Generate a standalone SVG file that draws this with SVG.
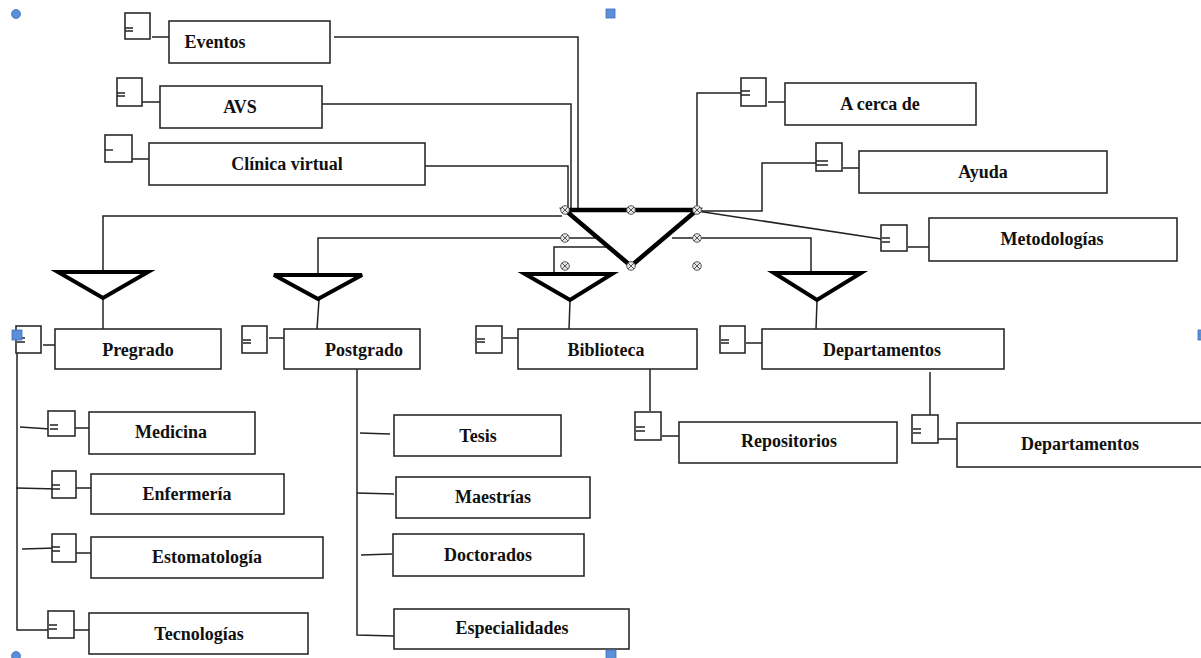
<svg xmlns="http://www.w3.org/2000/svg" xmlns:xlink="http://www.w3.org/1999/xlink" width="1201" height="658" viewBox="0 0 1201 658">
<style>
.box{fill:#fff;stroke:#2b2b2b;stroke-width:1.6}
.sb{fill:#fff;stroke:#2b2b2b;stroke-width:1.6}
.ln{fill:none;stroke:#222;stroke-width:1.5}
.eq{fill:none;stroke:#222;stroke-width:1.4}
.tri{fill:#fff;stroke:#000;stroke-width:4;stroke-linejoin:miter}
.big{fill:none;stroke:#000;stroke-width:4.5;stroke-linejoin:miter}
.t{font-family:"Liberation Serif","Times New Roman",serif;font-weight:bold;font-size:18px;fill:#111;text-anchor:middle}
.h{fill:#5b8fd8;stroke:#3f6fb8;stroke-width:0.8}
</style>
<defs>
<g id="xm"><circle r="4.3" fill="#e6e6e6" stroke="#555" stroke-width="1"/><path d="M-3,-3L3,3M-3,3L3,-3" stroke="#555" stroke-width="1"/></g>
</defs>
<rect width="1201" height="658" fill="#fff"/>

<g id="connectors">
<!-- top-left to center -->
<path class="ln" d="M334,37H578V210"/>
<path class="ln" d="M322,104H571V210"/>
<path class="ln" d="M425,166H568V210"/>
<!-- right top -->
<path class="ln" d="M697,210V93H748"/>
<path class="ln" d="M697,211H762V163H828"/>
<path class="ln" d="M697,211L888,240"/>
<!-- to branch triangles -->
<path class="ln" d="M562,216H103V272"/>
<path class="ln" d="M598,238H318V275"/>
<path class="ln" d="M608,247H554V274"/>
<path class="ln" d="M672,238H811V273"/>
<!-- triangle to box -->
<path class="ln" d="M103,299V329"/>
<path class="ln" d="M319,300L317,329"/>
<path class="ln" d="M570,301L569,329"/>
<path class="ln" d="M817,301L816,329"/>
<!-- small-box to box connectors -->
<path class="ln" d="M152,37H170M142,102H162M132,159H150M768,102H785M843,168H859M908,247H929"/>
<path class="ln" d="M43,345H56M269,338H284M503,338H518M746,343H762M662,436H680M938,439H957"/>
<path class="ln" d="M75,428H90M76,488H92M76,553H92M74,630H90"/>
<!-- Biblioteca / Departamentos children -->
<path class="ln" d="M650,369V411"/>
<path class="ln" d="M930,372V415"/>
<!-- Pregrado children -->
<path class="ln" d="M17,353V630H55"/>
<path class="ln" d="M20,427L50,429"/>
<path class="ln" d="M16,488L58,489"/>
<path class="ln" d="M22,549L56,548"/>
<!-- Postgrado children -->
<path class="ln" d="M357,369V635L394,636"/>
<path class="ln" d="M360,433L390,434"/>
<path class="ln" d="M357,493L394,494"/>
<path class="ln" d="M361,555L392,554"/>
</g>

<g id="central">
<path class="big" d="M565,210H697L631,266Z"/>
<use xlink:href="#xm" x="565" y="210"/>
<use xlink:href="#xm" x="631" y="210"/>
<use xlink:href="#xm" x="697" y="210"/>
<use xlink:href="#xm" x="565" y="238"/>
<use xlink:href="#xm" x="697" y="238"/>
<use xlink:href="#xm" x="565" y="266"/>
<use xlink:href="#xm" x="631" y="266"/>
<use xlink:href="#xm" x="697" y="266"/>
</g>

<g id="tri-pregrado"><path class="tri" d="M58,272H148L103,298Z"/></g>
<g id="tri-postgrado"><path class="tri" d="M274,275H362L318,299Z"/></g>
<g id="tri-biblioteca"><path class="tri" d="M525,274H612L570,300Z"/></g>
<g id="tri-departamentos"><path class="tri" d="M774,273H861L817,300Z"/></g>

<g id="eventos">
<rect class="sb" x="125" y="13" width="25" height="26"/><path class="eq" d="M125,28H133M125,31H133"/>
<rect class="box" x="169" y="21" width="161" height="42"/><text class="t" x="215" y="48">Eventos</text>
</g>
<g id="avs">
<rect class="sb" x="117" y="78" width="25" height="28"/><path class="eq" d="M117,93H125M117,96H125"/>
<rect class="box" x="160" y="86" width="162" height="42"/><text class="t" x="240" y="113">AVS</text>
</g>
<g id="clinica">
<rect class="sb" x="105" y="135" width="27" height="27"/><path class="eq" d="M105,150H113"/>
<rect class="box" x="149" y="143" width="276" height="42"/><text class="t" x="287" y="170">Clínica virtual</text>
</g>
<g id="acerca">
<rect class="sb" x="741" y="78" width="25" height="28"/><path class="eq" d="M741,91H750M741,95H750"/>
<rect class="box" x="785" y="83" width="191" height="42"/><text class="t" x="880" y="110">A cerca de</text>
</g>
<g id="ayuda">
<rect class="sb" x="816" y="143" width="26" height="28"/><path class="eq" d="M816,161H828M816,165H828"/>
<rect class="box" x="859" y="151" width="248" height="42"/><text class="t" x="983" y="178">Ayuda</text>
</g>
<g id="metodologias">
<rect class="sb" x="881" y="225" width="26" height="26"/><path class="eq" d="M882,238H890M882,242H890"/>
<rect class="box" x="929" y="218" width="248" height="43"/><text class="t" x="1052" y="245">Metodologías</text>
</g>

<g id="pregrado">
<rect class="sb" x="16" y="326" width="25" height="27"/><path class="eq" d="M17,338H25M17,342H25"/>
<rect class="box" x="55" y="329" width="166" height="40"/><text class="t" x="138" y="356">Pregrado</text>
</g>
<g id="postgrado">
<rect class="sb" x="242" y="326" width="25" height="27"/><path class="eq" d="M243,340H251M243,343H251"/>
<rect class="box" x="284" y="329" width="136" height="40"/><text class="t" x="364" y="356">Postgrado</text>
</g>
<g id="biblioteca">
<rect class="sb" x="476" y="326" width="26" height="27"/><path class="eq" d="M477,339H485M477,342H485"/>
<rect class="box" x="518" y="329" width="179" height="40"/><text class="t" x="606" y="356">Biblioteca</text>
</g>
<g id="departamentos">
<rect class="sb" x="720" y="326" width="25" height="27"/><path class="eq" d="M721,340H729M721,343H729"/>
<rect class="box" x="762" y="329" width="242" height="40"/><text class="t" x="882" y="356">Departamentos</text>
</g>
<g id="repositorios">
<rect class="sb" x="635" y="412" width="26" height="28"/><path class="eq" d="M636,427H645M636,431H645"/>
<rect class="box" x="679" y="422" width="218" height="41"/><text class="t" x="789" y="447">Repositorios</text>
</g>
<g id="departamentos2">
<rect class="sb" x="912" y="415" width="26" height="28"/><path class="eq" d="M913,429H921M913,433H921"/>
<rect class="box" x="957" y="423" width="248" height="44"/><text class="t" x="1080" y="450">Departamentos</text>
</g>

<g id="medicina">
<rect class="sb" x="48" y="411" width="27" height="25"/><path class="eq" d="M50,425H58M50,429H58"/>
<rect class="box" x="89" y="412" width="166" height="42"/><text class="t" x="171" y="438">Medicina</text>
</g>
<g id="enfermeria">
<rect class="sb" x="52" y="471" width="24" height="27"/><path class="eq" d="M52,485H60M52,489H60"/>
<rect class="box" x="91" y="474" width="193" height="40"/><text class="t" x="187" y="500">Enfermería</text>
</g>
<g id="estomatologia">
<rect class="sb" x="52" y="534" width="24" height="28"/><path class="eq" d="M52,547H60M52,551H60"/>
<rect class="box" x="91" y="537" width="232" height="41"/><text class="t" x="207" y="563">Estomatología</text>
</g>
<g id="tecnologias">
<rect class="sb" x="48" y="611" width="26" height="27"/><path class="eq" d="M49,625H57M49,629H57"/>
<rect class="box" x="89" y="613" width="219" height="41"/><text class="t" x="199" y="640">Tecnologías</text>
</g>

<g id="tesis"><rect class="box" x="394" y="415" width="167" height="41"/><text class="t" x="478" y="442">Tesis</text></g>
<g id="maestrias"><rect class="box" x="396" y="477" width="194" height="41"/><text class="t" x="493" y="503">Maestrías</text></g>
<g id="doctorados"><rect class="box" x="393" y="534" width="191" height="42"/><text class="t" x="488" y="561">Doctorados</text></g>
<g id="especialidades"><rect class="box" x="394" y="609" width="235" height="40"/><text class="t" x="512" y="634">Especialidades</text></g>

<g id="handles">
<circle class="h" cx="16" cy="14" r="4.5"/>
<rect class="h" x="606" y="9" width="9" height="9"/>
<rect class="h" x="12" y="330" width="10" height="10"/>
<rect class="h" x="1198" y="330" width="6" height="10"/>
<circle class="h" cx="16" cy="656" r="4.5"/>
<rect class="h" x="606" y="650" width="10" height="10"/>
</g>
</svg>
